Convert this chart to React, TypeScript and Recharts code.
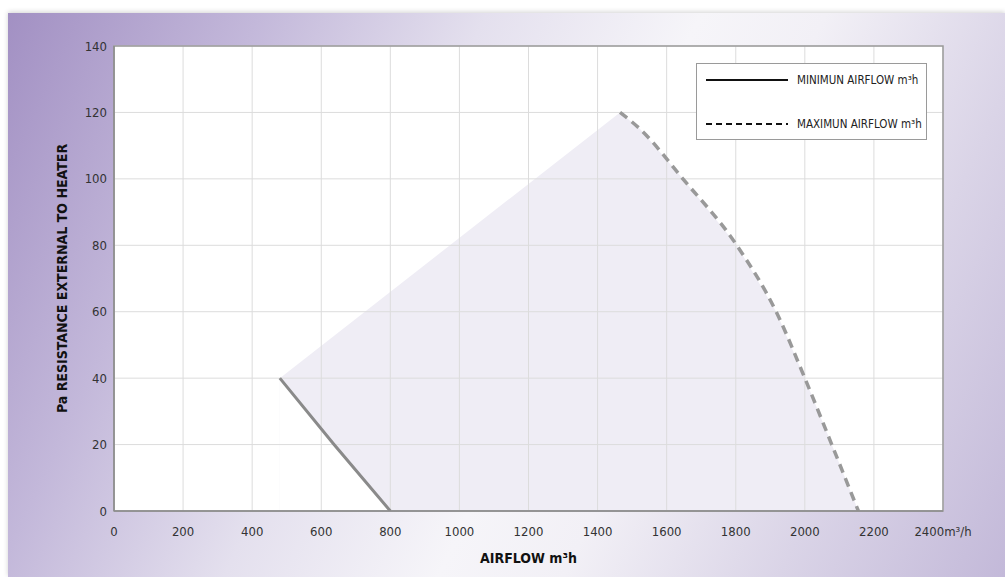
import React from 'react';
import {
    ComposedChart,
    Line,
    Area,
    XAxis,
    YAxis,
    CartesianGrid,
    ReferenceArea,
    Legend,
    Label,
} from 'recharts';

// min airflow curve
const minFlowX = [480, 637, 800];
const minFlowY = [40, 20, 0];

// max airflow curve
const maxFlowX = [1465, 1523, 1647, 1803, 1917, 2000, 2078, 2155];
const maxFlowY = [120, 115, 100, 80, 60, 40, 20, 0];

const xTicks = [0, 200, 400, 600, 800, 1000, 1200, 1400, 1600, 1800, 2000, 2200, 2400];
const yTicks = [0, 20, 40, 60, 80, 100, 120, 140];

const minLabel = 'MINIMUN AIRFLOW m³h';
const maxLabel = 'MAXIMUN AIRFLOW m³h';
const legendOrder = [minLabel, maxLabel];

const FONT = '"Liberation Sans Narrow", "DejaVu Sans Condensed", "Liberation Sans", sans-serif';

const COLORS = {
    min: '#8a8a8a',
    max: '#999999',
    fill: '#efedf5',
    grid: '#dcdcdc',
    border: '#9a9a9a',
};

const minData = minFlowX.map((x, i) => ({ x, y: minFlowY[i] }));
const maxData = maxFlowX.map((x, i) => ({ x, y: maxFlowY[i] }));
// operating envelope: from first min point straight to the first max point, then down the max curve
const envelopeData = [minData[0], ...maxData];

function LegendBox({ payload }: any) {
    const items = (payload ?? [])
        .filter((p: any) => p.type !== 'none')
        .sort((a: any, b: any) => legendOrder.indexOf(a.value) - legendOrder.indexOf(b.value));
    return (
        <div
            style={{
                background: '#fff',
                border: '1px solid #9a9a9a',
                width: 231,
                height: 77,
                boxSizing: 'border-box',
                fontFamily: FONT,
                fontSize: 11.5,
                color: '#222',
                display: 'flex',
                flexDirection: 'column',
                justifyContent: 'space-between',
                padding: '8px 0 7px 0',
                whiteSpace: 'nowrap',
            }}
        >
            {items.map((p: any) => (
                <div key={p.value} style={{ display: 'flex', alignItems: 'center', height: 16 }}>
                    <svg width={91} height={6} style={{ marginLeft: 9, flex: 'none' }}>
                        <line
                            x1={0}
                            y1={3}
                            x2={82}
                            y2={3}
                            stroke="#111"
                            strokeWidth={2}
                            strokeDasharray={p.payload?.strokeDasharray ? '6 4' : undefined}
                        />
                    </svg>
                    <span>{p.value}</span>
                </div>
            ))}
        </div>
    );
}

export default function App() {
    return (
        <div>
            <style>{`body{margin:0;overflow:hidden;background:#fff}`}</style>
            <div
                style={{
                    position: 'absolute',
                    left: 8,
                    top: 13,
                    width: 997,
                    height: 564,
                    boxShadow: '0 -1px 5px rgba(0,0,0,0.18)',
                    background:
                        'linear-gradient(115deg, #a290c3 0%, #c3b8da 20%, #e4e0ee 38%, #f6f5f9 55%, #f2f0f6 65%, #dad4e7 82%, #c3b9d9 100%)',
                }}
            >
                <ComposedChart
                    width={997}
                    height={564}
                    margin={{ top: 33, right: 62, left: 46, bottom: 16 }}
                    style={{ fontFamily: FONT }}
                >
                    <CartesianGrid fill="#ffffff" horizontal={false} vertical={false} />

                    <XAxis
                        type="number"
                        dataKey="x"
                        domain={[0, 2400]}
                        ticks={xTicks}
                        interval={0}
                        tickLine={false}
                        tickSize={0}
                        tickMargin={16}
                        height={50}
                        axisLine={{ stroke: '#8c8c8c', strokeWidth: 1.5 }}
                        tick={{ fontSize: 13, fill: '#333', fontFamily: FONT }}
                        tickFormatter={(v) => (v === 2400 ? '2400m³/h' : String(v))}
                        allowDataOverflow
                    >
                        <Label
                            value="AIRFLOW m³h"
                            position="insideBottom"
                            offset={-2}
                            style={{ fontSize: 14, fontWeight: 'bold', fill: '#111', fontFamily: FONT }}
                        />
                    </XAxis>

                    <YAxis
                        type="number"
                        domain={[0, 140]}
                        ticks={yTicks}
                        interval={0}
                        width={60}
                        tickLine={false}
                        tickSize={0}
                        tickMargin={7}
                        axisLine={{ stroke: '#8c8c8c', strokeWidth: 1.5 }}
                        tick={{ fontSize: 13, fill: '#333', fontFamily: FONT }}
                        allowDataOverflow
                    >
                        <Label
                            value="Pa RESISTANCE EXTERNAL TO HEATER"
                            angle={-90}
                            position="insideLeft"
                            offset={8}
                            style={{ textAnchor: 'middle', fontSize: 14, fontWeight: 'bold', fill: '#111', fontFamily: FONT }}
                        />
                    </YAxis>

                    <Area
                        data={envelopeData}
                        dataKey="y"
                        type="linear"
                        stroke="none"
                        fill={COLORS.fill}
                        fillOpacity={1}
                        legendType="none"
                        isAnimationActive={false}
                    />
                    <Area
                        data={minData}
                        dataKey="y"
                        type="linear"
                        stroke="none"
                        fill="#ffffff"
                        fillOpacity={1}
                        legendType="none"
                        isAnimationActive={false}
                    />

                    <CartesianGrid stroke={COLORS.grid} fill="none" zIndex={150} />

                    <ReferenceArea
                        x1={0}
                        x2={2400}
                        y1={0}
                        y2={140}
                        fill="none"
                        stroke={COLORS.border}
                        strokeWidth={1.5}
                        zIndex={160}
                    />

                    <Line
                        data={minData}
                        dataKey="y"
                        name={minLabel}
                        type="linear"
                        stroke={COLORS.min}
                        strokeWidth={3}
                        dot={false}
                        isAnimationActive={false}
                    />
                    <Line
                        data={maxData}
                        dataKey="y"
                        name={maxLabel}
                        type="monotone"
                        stroke={COLORS.max}
                        strokeWidth={3.5}
                        strokeDasharray="9 6"
                        dot={false}
                        isAnimationActive={false}
                    />

                    <Legend
                        layout="horizontal"
                        verticalAlign="middle"
                        align="center"
                        content={<LegendBox />}
                        wrapperStyle={{ position: 'absolute', left: 688, top: 50, width: 231 }}
                    />
                </ComposedChart>
            </div>
        </div>
    );
}
